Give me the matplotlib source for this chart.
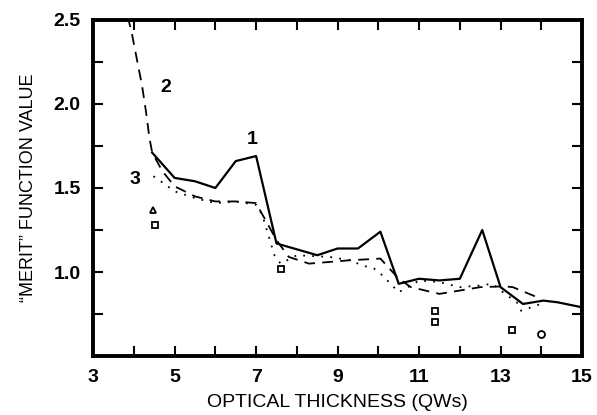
import matplotlib
matplotlib.use("Agg")
import matplotlib.pyplot as plt
from matplotlib.ticker import MultipleLocator

plt.rcParams["font.family"] = ["Liberation Sans", "DejaVu Sans"]

# curve 1 (solid)
x1 = [4.45, 5.0, 5.5, 6.0, 6.5, 7.0, 7.5, 8.5, 9.0, 9.5, 10.05, 10.5, 11.0, 11.5, 12.0,
      12.55, 13.0, 13.55, 14.05, 14.4, 15.0]
y1 = [1.71, 1.56, 1.54, 1.50, 1.66, 1.69, 1.17, 1.10, 1.14, 1.14, 1.24, 0.93, 0.96, 0.95, 0.96,
      1.25, 0.91, 0.81, 0.83, 0.82, 0.79]

# curve 2 (dashed)
x2 = [3.85, 3.95, 4.07, 4.2, 4.3, 4.38, 4.45, 4.7, 5.0, 5.5, 6.0, 6.5, 7.0, 7.5, 7.8,
      8.3, 8.8, 9.3, 10.05, 10.5, 10.8, 11.5, 12.0, 12.5, 13.1, 13.3, 13.9]
y2 = [2.52, 2.42, 2.27, 2.11, 1.95, 1.80, 1.71, 1.60, 1.51, 1.45, 1.42, 1.42, 1.41, 1.19, 1.09,
      1.05, 1.06, 1.07, 1.08, 0.96, 0.91, 0.87, 0.89, 0.91, 0.915, 0.91, 0.85]

# curve 3 (dotted)
x3 = [4.48, 4.72, 5.0, 5.5, 6.0, 6.5, 7.0, 7.15, 7.3, 7.45, 7.6, 8.0, 8.8, 9.3, 9.6,
      9.9, 10.1, 10.3, 10.5, 10.8, 11.0, 11.5, 12.0, 12.5, 12.8, 13.0, 13.4, 13.5, 13.75, 14.1]
y3 = [1.57, 1.53, 1.48, 1.44, 1.41, 1.42, 1.40, 1.34, 1.22, 1.10, 1.05, 1.10, 1.09, 1.07, 1.04,
      1.02, 0.98, 0.93, 0.88, 0.92, 0.95, 0.94, 0.91, 0.92, 0.93, 0.89, 0.82, 0.77, 0.79, 0.82]

# isolated markers
sq_x = [4.52, 7.6, 11.4, 11.4, 13.27]
sq_y = [1.28, 1.02, 0.77, 0.70, 0.655]
tri_x = [4.46]
tri_y = [1.37]
circ_x = [14.0]
circ_y = [0.63]

fig = plt.figure(figsize=(5.97, 4.15), dpi=100)
ax = fig.add_axes([0.156, 0.142, 0.819, 0.81])

ax.plot(x1, y1, color="black", lw=1.6, ls="-")
ax.plot(x2, y2, color="black", lw=1.3, ls=(0, (6, 4)))
ax.plot(x3, y3, color="black", lw=1.3, ls=(0, (1, 4)))

ax.plot(sq_x, sq_y, ls="none", marker="s", ms=5, mfc="white", mec="black", mew=1.3)
ax.plot(tri_x, tri_y, ls="none", marker="^", ms=5, mfc="white", mec="black", mew=1.3)
ax.plot(circ_x, circ_y, ls="none", marker="o", ms=5, mfc="white", mec="black", mew=1.3)

ax.text(6.9, 1.79, "1", fontsize=14, fontweight="bold", ha="center", va="center")
ax.text(4.79, 2.10, "2", fontsize=14, fontweight="bold", ha="center", va="center")
ax.text(4.03, 1.55, "3", fontsize=14, fontweight="bold", ha="center", va="center")

ax.set_xlim(3, 15)
ax.set_ylim(0.5, 2.5)
ax.set_xticks([3, 5, 7, 9, 11, 13, 15])
ax.xaxis.set_minor_locator(MultipleLocator(1))
ax.set_yticks([1.0, 1.5, 2.0, 2.5])
ax.set_yticklabels(["1.0", "1.5", "2.0", "2.5"])
ax.yaxis.set_minor_locator(MultipleLocator(0.25))
ax.tick_params(which="both", direction="in", top=True, right=True, width=1.5)
ax.tick_params(which="major", length=7, labelsize=14, pad=9)
ax.tick_params(which="minor", length=7)
for lab in ax.get_xticklabels() + ax.get_yticklabels():
    lab.set_fontweight("bold")
for s in ax.spines.values():
    s.set_linewidth(2.8)

ax.set_xlabel("OPTICAL THICKNESS (QWs)", fontsize=14, labelpad=6)
ax.set_ylabel("\u201cMERIT\u201d FUNCTION VALUE", fontsize=13, labelpad=12)

fig.savefig("out.png", dpi=100)
